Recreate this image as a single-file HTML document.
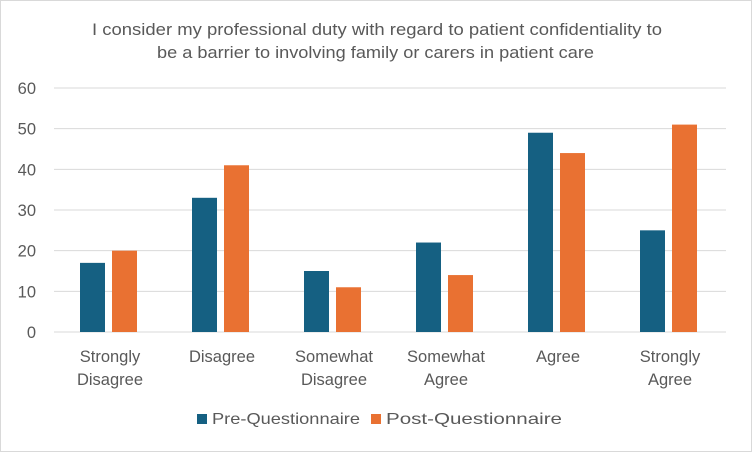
<!DOCTYPE html>
<html><head><meta charset="utf-8"><style>
body{margin:0;background:#fff;}
svg{display:block;font-family:"Liberation Sans",Arial,sans-serif;}
</style></head><body>
<svg id="chart" width="752" height="452">
<rect x="0.5" y="0.5" width="751" height="451" fill="#fff" stroke="#d9d9d9"/>
<text x="92" y="35" textLength="570" lengthAdjust="spacingAndGlyphs" font-size="16.5" fill="#595959">I consider my professional duty with regard to patient confidentiality  to</text>
<text x="157" y="58" textLength="437" lengthAdjust="spacingAndGlyphs" font-size="16.5" fill="#595959">be a barrier to involving family or carers in patient care</text>
<g id="grid"></g><g id="bars"></g><g id="labels"></g>
<rect x="197" y="414" width="10" height="10" fill="#156082"/>
<text x="212" y="424" textLength="148" lengthAdjust="spacingAndGlyphs" font-size="16" fill="#595959">Pre-Questionnaire</text>
<rect x="371" y="414" width="10" height="10" fill="#e97132"/>
<text x="386" y="424" textLength="176" lengthAdjust="spacingAndGlyphs" font-size="16" fill="#595959">Post-Questionnaire</text>
</svg>
<script>
const categories=[["Strongly","Disagree"],["Disagree"],["Somewhat","Disagree"],["Somewhat","Agree"],["Agree"],["Strongly","Agree"]];
const preValues=[17,33,15,22,49,25];
const postValues=[20,41,11,14,44,51];
const yTicks=[0,10,20,30,40,50,60];
const NS="http://www.w3.org/2000/svg";
const x0=54,x1=726,yBase=332,yTop=88,yMax=60;
const y=v=>yBase-(v/yMax)*(yBase-yTop);
const bw=(x1-x0)/categories.length;
const cx=i=>x0+bw*(i+0.5);
function mk(tag,attrs,parent){const e=document.createElementNS(NS,tag);for(const k in attrs)e.setAttribute(k,attrs[k]);document.getElementById(parent).appendChild(e);return e;}
yTicks.forEach(t=>{
 const l=mk("line",{x1:x0,x2:x1,y1:y(t),y2:y(t),stroke:"#d9d9d9","stroke-width":1},"grid");
 
 
 const tx=mk("text",{x:36,y:y(t)+6,"text-anchor":"end","font-size":16.5,fill:"#595959"},"grid");
 tx.textContent=t;
 
 
});
categories.forEach((c,i)=>{
 const b1=mk("rect",{x:cx(i)-30,y:y(preValues[i]),width:25,height:yBase-y(preValues[i]),fill:"#156082"},"bars");
 
 
 const b2=mk("rect",{x:cx(i)+2,y:y(postValues[i]),width:25,height:yBase-y(postValues[i]),fill:"#e97132"},"bars");
 
 
 c.forEach((s,j)=>{
  const t=mk("text",{x:cx(i),y:362+j*23,"text-anchor":"middle","font-size":16.5,fill:"#595959"},"labels");
  t.textContent=s;
  
  
 });
});
</script>
</body></html>
